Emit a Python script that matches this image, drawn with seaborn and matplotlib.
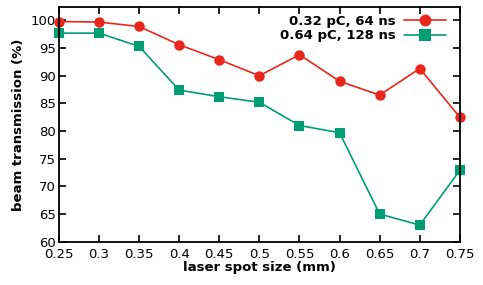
import matplotlib
matplotlib.use("Agg")
import matplotlib.pyplot as plt
import seaborn as sns
import pandas as pd

spot_size = [0.25, 0.30, 0.35, 0.40, 0.45, 0.50, 0.55, 0.60, 0.65, 0.70, 0.75]
trans_032 = [99.8, 99.7, 98.9, 95.6, 92.9, 90.0, 93.8, 89.0, 86.5, 91.3, 82.5]
trans_064 = [97.7, 97.7, 95.3, 87.4, 86.2, 85.2, 81.0, 79.7, 65.0, 63.0, 72.9]
series_labels = ["0.32 pC, 64 ns", "0.64 pC, 128 ns"]
x_ticks = [0.25, 0.3, 0.35, 0.4, 0.45, 0.5, 0.55, 0.6, 0.65, 0.7, 0.75]
x_tick_labels = ["0.25", "0.3", "0.35", "0.4", "0.45", "0.5", "0.55", "0.6", "0.65", "0.7", "0.75"]
y_ticks = [60, 65, 70, 75, 80, 85, 90, 95, 100]

sns.set_style("ticks")
plt.rcParams["font.family"] = ["DejaVu Sans"]
plt.rcParams["text.color"] = "black"
plt.rcParams["axes.labelcolor"] = "black"

df = pd.DataFrame({
    "x": spot_size * 2,
    "y": trans_032 + trans_064,
    "series": [series_labels[0]] * len(spot_size) + [series_labels[1]] * len(spot_size),
})

fig = plt.figure(figsize=(4.83, 2.85), dpi=100)
ax = fig.add_axes([0.122, 0.152, 0.83, 0.823])

palette = {series_labels[0]: "#e8261c", series_labels[1]: "#009e73"}
sns.lineplot(data=df, x="x", y="y", hue="series", style="series",
             markers={series_labels[0]: "o", series_labels[1]: "s"},
             dashes=False, palette=palette, markersize=7.5, linewidth=1.2,
             markeredgewidth=0, ax=ax, clip_on=False)

ax.set_xlim(0.25, 0.75)
ax.set_ylim(60, 102.4)
ax.set_xticks(x_ticks)
ax.set_xticklabels(x_tick_labels)
ax.set_yticks(y_ticks)
ax.tick_params(direction="in", top=True, right=True, length=5, width=1.2,
               labelsize=9.5, pad=2, colors="black")
ax.tick_params(axis="x", pad=4.5)
for s in ax.spines.values():
    s.set_linewidth(1.3)
    s.set_color("black")
    s.set_visible(True)

ax.set_xlabel("laser spot size (mm)", fontsize=9.5, fontweight="bold", labelpad=0, color="black")
ax.set_ylabel("beam transmission (%)", fontsize=9.5, fontweight="bold", labelpad=4, color="black")

leg = ax.legend(loc="upper right", frameon=False, markerfirst=False,
                handlelength=3.2, fontsize=9.5, borderaxespad=0.2,
                labelspacing=0.1, handletextpad=0.6, bbox_to_anchor=(0.985, 1.0))
for t in leg.get_texts():
    t.set_fontweight("bold")
    t.set_color("black")
for h in leg.legend_handles:
    h.set_markersize(8.5)

fig.savefig("out.png", dpi=100)
